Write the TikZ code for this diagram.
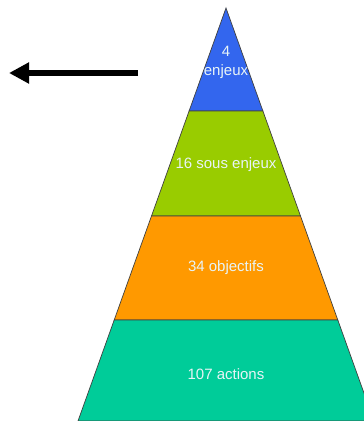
\documentclass[tikz,border=0pt]{standalone}
\usepackage{fontspec}
\setmainfont{Liberation Sans}
\usetikzlibrary{arrows.meta}

\definecolor{tierblue}{RGB}{51,102,238}
\definecolor{tiergreen}{RGB}{153,204,0}
\definecolor{tierorange}{RGB}{255,153,0}
\definecolor{tierteal}{RGB}{0,204,153}
\definecolor{lbltext}{RGB}{232,244,246}

\begin{document}
\begin{tikzpicture}[x=1pt, y=-1pt,
  tier/.style={draw=black!75, line width=0.7pt},
  lbl/.style={text=lbltext, font=\fontsize{15}{19}\selectfont, align=center}]
  \useasboundingbox (0,0) rectangle (364,421);
  \clip (0,0) rectangle (364,421);

  % Tiers of the pyramid
  \filldraw[tier, fill=tierblue]   (226,8) -- (262.9,111) -- (189.1,111) -- cycle;
  \filldraw[tier, fill=tiergreen]  (189.1,111) -- (262.9,111) -- (300.5,216) -- (151.5,216) -- cycle;
  \filldraw[tier, fill=tierorange] (151.5,216) -- (300.5,216) -- (337.8,320) -- (114.2,320) -- cycle;
  \filldraw[tier, fill=tierteal]   (114.2,320) -- (337.8,320) -- (374,421) -- (78,421) -- cycle;

  % Labels
  \node[lbl] (enjeux)  at (226,62.5) {4\\enjeux};
  \node[lbl] (sous)    at (226,165)  {16 sous enjeux};
  \node[lbl] (objs)    at (226,268)  {34 objectifs};
  \node[lbl] (actions) at (226,374)  {107 actions};

  % Arrow
  \coordinate (tail) at (138,73);
  \coordinate (tip)  at (9,73);
  \draw[line width=6pt, -{Triangle[length=20pt, width=20pt]}] (tail) -- (tip);
\end{tikzpicture}
\end{document}
